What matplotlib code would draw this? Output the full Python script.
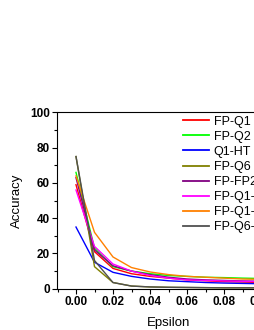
import matplotlib

matplotlib.use("Agg")
import matplotlib.pyplot as plt
from matplotlib.ticker import MultipleLocator

plt.rcParams["font.family"] = ["Liberation Sans", "DejaVu Sans"]

epsilon = [0.00, 0.01, 0.02, 0.03, 0.04, 0.05, 0.06, 0.07, 0.08, 0.09, 0.10]

fp_q1 = [59, 21, 11.5, 8.5, 7, 6, 5, 4.5, 4, 3.8, 3.5]
fp_q2 = [66, 23, 12.5, 10, 8.5, 7.5, 7, 6.5, 6.3, 6, 5.8]
q1_ht = [35, 15, 9.3, 7, 5.5, 4.5, 4, 3.5, 3.2, 3, 2.8]
fp_q6 = [75, 12.5, 3.5, 1.5, 1, 0.8, 0.7, 0.6, 0.5, 0.5, 0.5]
fp_fp2 = [63, 22, 13, 10, 8, 6.5, 5.5, 5, 4.7, 4.4, 4.2]
fp_q1_a = [56, 24, 14, 10, 7.5, 6, 5, 4.7, 4.4, 4.2, 4]
fp_q1_b = [64, 32, 18, 12, 9.5, 8, 7, 6.5, 6, 5.5, 5.3]
fp_q6_a = [75, 16, 3.5, 1.5, 1, 0.8, 0.7, 0.6, 0.5, 0.5, 0.5]

series = [
    ("FP-Q1", fp_q1, "#ff0000"),
    ("FP-Q2", fp_q2, "#00ff00"),
    ("Q1-HT", q1_ht, "#0000ff"),
    ("FP-Q6", fp_q6, "#808000"),
    ("FP-FP2", fp_fp2, "#800080"),
    ("FP-Q1-HT", fp_q1_a, "#ff00ff"),
    ("FP-Q1-Q2", fp_q1_b, "#ff8000"),
    ("FP-Q6-HT", fp_q6_a, "#505050"),
]

W, H = 255, 330
fig = plt.figure(figsize=(W / 100, H / 100), dpi=100)

# axes run past the right edge of the figure, as in the reference
left, right, top, bottom = 57.5, 279.5, 112.5, 288.7
ax = fig.add_axes([left / W, (H - bottom) / H, (right - left) / W, (bottom - top) / H])

for name, vals, color in series:
    ax.plot(epsilon, vals, color=color, linewidth=1.0, label=name)

ax.set_xlim(-0.01, 0.11)
ax.set_ylim(0, 100)
ax.xaxis.set_major_locator(MultipleLocator(0.02))
ax.xaxis.set_minor_locator(MultipleLocator(0.01))
ax.yaxis.set_major_locator(MultipleLocator(20))
ax.yaxis.set_minor_locator(MultipleLocator(10))
ax.xaxis.set_major_formatter(plt.FuncFormatter(lambda v, p: f"{v:.2f}"))
ax.tick_params(which="both", direction="out", top=False, right=False, width=0.8)
ax.tick_params(which="major", length=3.5, labelsize=8.5, pad=2)
ax.tick_params(which="minor", length=2)
for lab in ax.get_xticklabels() + ax.get_yticklabels():
    lab.set_fontweight("bold")
for sp in ax.spines.values():
    sp.set_linewidth(0.8)

ax.set_xlabel("Epsilon", fontsize=9.5, labelpad=6)
ax.set_ylabel("Accuracy", fontsize=9.5, labelpad=5)

leg = ax.legend(
    loc="upper left",
    bbox_to_anchor=(180 / W, 1 - 113 / H),
    bbox_transform=fig.transFigure,
    frameon=False,
    fontsize=9,
    handlelength=2.15,
    handletextpad=0.35,
    labelspacing=0.25,
    borderaxespad=0,
    borderpad=0.2,
)
for line in leg.get_lines():
    line.set_linewidth(1.3)

fig.savefig("out.png", dpi=100)
